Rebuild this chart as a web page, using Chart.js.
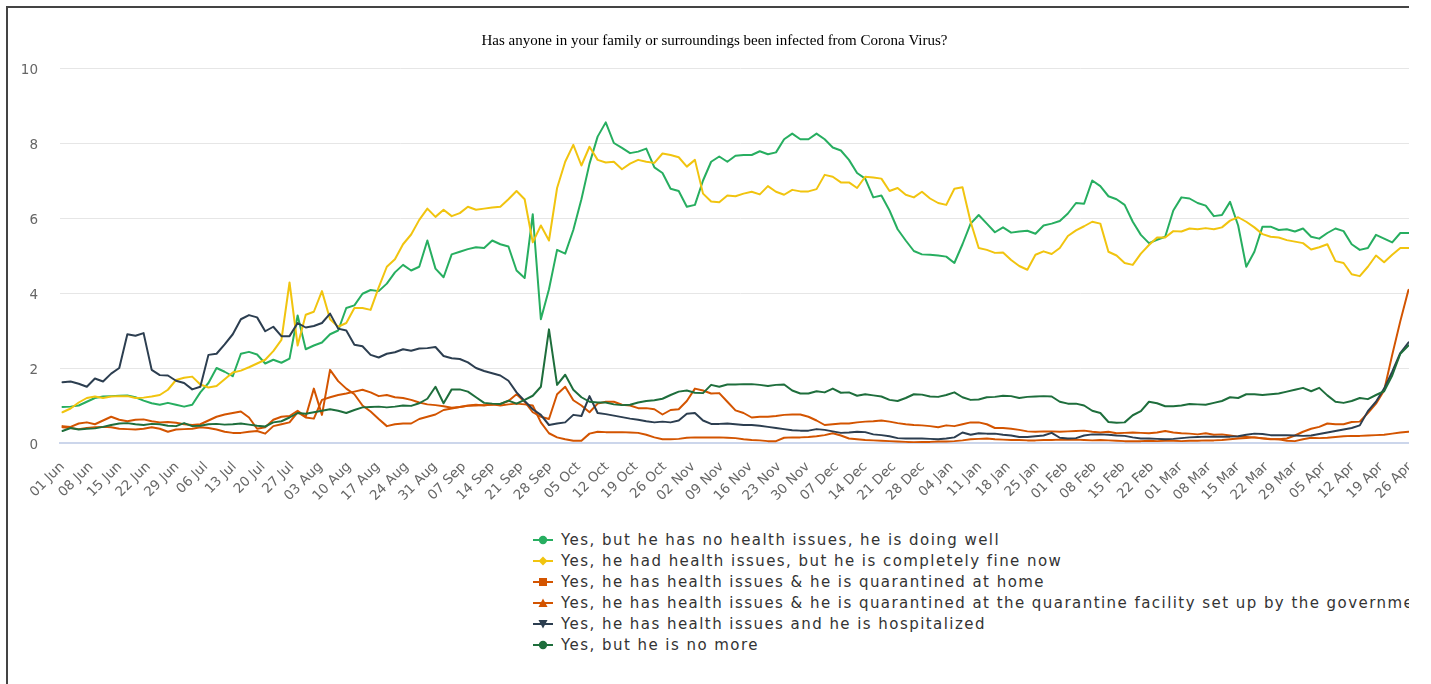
<!DOCTYPE html>
<html>
<head>
<meta charset="utf-8">
<title>Has anyone in your family or surroundings been infected from Corona Virus?</title>
<script src="https://cdn.jsdelivr.net/npm/chart.js@4.4.1/dist/chart.umd.min.js"></script>
<style>
  html, body { margin: 0; padding: 0; background: #fff; overflow: hidden; }
  #frame {
    position: absolute; left: 6px; top: 6px; width: 1401px; height: 700px;
    border-left: 2px solid #444; border-top: 2px solid #444; overflow: hidden;
  }
  #chartBox { position: absolute; left: 0; top: 0; width: 1413px; height: 505px; }
  #legend {
    position: absolute; left: 525px; top: 521px; white-space: nowrap;
    font: 15px "DejaVu Sans", sans-serif; letter-spacing: 1.45px; color: #333;
  }
  .legend-item { height: 21px; display: flex; align-items: center; }
  .legend-item svg { flex: none; margin-right: 8px; }
</style>
</head>
<body>
<div id="frame">
  <div id="chartBox"><canvas id="surveyChart"></canvas></div>
  <div id="legend"></div>
</div>
<script>
const STEP_DAYS = 1.98

const tickLabels = [
  "01 Jun", "08 Jun", "15 Jun", "22 Jun", "29 Jun", "06 Jul", "13 Jul", "20 Jul", "27 Jul",
  "03 Aug", "10 Aug", "17 Aug", "24 Aug", "31 Aug", "07 Sep", "14 Sep", "21 Sep", "28 Sep",
  "05 Oct", "12 Oct", "19 Oct", "26 Oct", "02 Nov", "09 Nov", "16 Nov", "23 Nov", "30 Nov",
  "07 Dec", "14 Dec", "21 Dec", "28 Dec", "04 Jan", "11 Jan", "18 Jan", "25 Jan", "01 Feb",
  "08 Feb", "15 Feb", "22 Feb", "01 Mar", "08 Mar", "15 Mar", "22 Mar", "29 Mar", "05 Apr",
  "12 Apr", "19 Apr", "26 Apr", "03 May",
]

const seriesNames = [
  "Yes, but he has no health issues, he is doing well",
  "Yes, he had health issues, but he is completely fine now",
  "Yes, he has health issues & he is quarantined at home",
  "Yes, he has health issues & he is quarantined at the quarantine facility set up by the government",
  "Yes, he has health issues and he is hospitalized",
  "Yes, but he is no more",
]

const doingWell = [
  0.96, 0.97, 1.0, 1.1, 1.2, 1.24, 1.25, 1.26, 1.27, 1.22,
  1.13, 1.06, 1.02, 1.07, 1.02, 0.97, 1.02, 1.35, 1.6, 2.0,
  1.9, 1.78, 2.38, 2.43, 2.36, 2.12, 2.22, 2.14, 2.25, 3.4,
  2.5, 2.6, 2.68, 2.9, 3.0, 3.6, 3.67, 3.98, 4.08, 4.05,
  4.25, 4.55, 4.75, 4.6, 4.7, 5.4, 4.65, 4.42, 5.03, 5.1,
  5.17, 5.22, 5.2, 5.4, 5.3, 5.24, 4.6, 4.4, 6.1, 3.3,
  4.1, 5.15, 5.05, 5.68, 6.5, 7.45, 8.17, 8.55, 8.0, 7.87,
  7.73, 7.77, 7.85, 7.35, 7.2, 6.78, 6.72, 6.3, 6.35, 7.0,
  7.5, 7.64, 7.5, 7.66, 7.68, 7.68, 7.78, 7.7, 7.75, 8.1,
  8.25, 8.1, 8.1, 8.25, 8.1, 7.88, 7.8, 7.55, 7.2, 7.05,
  6.55, 6.6, 6.2, 5.7, 5.4, 5.12, 5.03, 5.02, 5.0, 4.97,
  4.8, 5.3, 5.85, 6.08, 5.85, 5.62, 5.75, 5.61, 5.64, 5.66,
  5.58, 5.8, 5.85, 5.92, 6.12, 6.4, 6.38, 7.0, 6.85, 6.58,
  6.5, 6.35, 5.9, 5.55, 5.33, 5.42, 5.5, 6.2, 6.55, 6.52,
  6.4, 6.33, 6.05, 6.08, 6.43, 5.8, 4.7, 5.1, 5.77, 5.77,
  5.68, 5.7, 5.64, 5.72, 5.5, 5.45, 5.6, 5.72, 5.65, 5.3,
  5.15, 5.2, 5.55, 5.45, 5.35, 5.6, 5.6, 5.6,
]

const fineNow = [
  0.82, 0.92, 1.08, 1.2, 1.24, 1.2, 1.24, 1.25, 1.25, 1.2,
  1.21, 1.24, 1.28, 1.42, 1.68, 1.74, 1.77, 1.56, 1.48, 1.52,
  1.7, 1.88, 1.93, 2.02, 2.12, 2.22, 2.45, 2.75, 4.28, 2.6,
  3.42, 3.5, 4.05, 3.3, 3.1, 3.2, 3.6, 3.6, 3.55, 4.15,
  4.7, 4.9, 5.3, 5.56, 5.95, 6.25, 6.03, 6.22, 6.05, 6.13,
  6.3, 6.22, 6.25, 6.28, 6.3, 6.5, 6.72, 6.5, 5.35, 5.8,
  5.4, 6.8, 7.5, 7.95, 7.4, 7.9, 7.55, 7.48, 7.5, 7.3,
  7.45, 7.55, 7.5, 7.47, 7.72, 7.68, 7.62, 7.37, 7.55, 6.65,
  6.44, 6.42, 6.6, 6.58, 6.65, 6.7, 6.63, 6.85, 6.7, 6.62,
  6.75, 6.71, 6.71, 6.77, 7.15, 7.1, 6.95, 6.95, 6.8, 7.1,
  7.08, 7.05, 6.72, 6.8, 6.62, 6.55, 6.7, 6.52, 6.4, 6.35,
  6.78, 6.82, 5.9, 5.2, 5.15, 5.07, 5.08, 4.88, 4.72, 4.62,
  5.02, 5.11, 5.04, 5.2, 5.52, 5.67, 5.78, 5.9, 5.85, 5.1,
  5.0, 4.8, 4.75, 5.05, 5.28, 5.48, 5.48, 5.65, 5.64, 5.72,
  5.7, 5.73, 5.7, 5.75, 5.93, 6.02, 5.9, 5.75, 5.57, 5.5,
  5.48, 5.41, 5.37, 5.33, 5.16, 5.22, 5.3, 4.85, 4.8, 4.5,
  4.45, 4.7, 5.0, 4.82, 5.02, 5.2, 5.2, 5.2,
]

const atHome = [
  0.45, 0.43, 0.52, 0.55, 0.5, 0.6, 0.7, 0.62, 0.58, 0.62,
  0.63, 0.58, 0.55, 0.56, 0.54, 0.5, 0.48, 0.5, 0.6, 0.7,
  0.76, 0.8, 0.84, 0.68, 0.38, 0.42, 0.62, 0.7, 0.72, 0.86,
  0.7, 1.45, 0.75, 1.95, 1.65, 1.45, 1.3, 1.0, 0.84, 0.64,
  0.45, 0.5, 0.52, 0.52, 0.64, 0.7, 0.76, 0.88, 0.92, 0.96,
  0.99, 1.0, 1.01, 1.02, 1.04, 1.12, 1.3, 1.1, 0.82, 0.7,
  0.64, 1.3, 1.5, 1.14, 1.0, 0.82, 1.05, 1.1, 1.1, 1.02,
  1.0, 0.93, 0.93, 0.9, 0.76, 0.88, 0.9, 1.12, 1.45, 1.4,
  1.32, 1.33, 1.1, 0.87, 0.8, 0.68, 0.7, 0.7, 0.72, 0.75,
  0.76, 0.76, 0.7, 0.6, 0.48, 0.5, 0.52, 0.52, 0.55, 0.57,
  0.58, 0.6, 0.57, 0.53, 0.5, 0.48, 0.47, 0.45, 0.42, 0.47,
  0.45, 0.5, 0.55, 0.55, 0.5, 0.4, 0.4, 0.38, 0.35, 0.31,
  0.3, 0.31, 0.31, 0.3, 0.31, 0.32, 0.33, 0.3, 0.28, 0.3,
  0.26, 0.27, 0.28, 0.27, 0.26, 0.28, 0.32, 0.28, 0.26, 0.25,
  0.23, 0.26, 0.22, 0.23, 0.2, 0.17, 0.16, 0.15, 0.12, 0.1,
  0.1, 0.12, 0.2, 0.3, 0.38, 0.43, 0.52, 0.5, 0.5, 0.56,
  0.57, 0.8, 1.05, 1.4, 2.35, 3.25, 4.08, 4.2,
]

const atFacility = [
  0.42, 0.4, 0.37, 0.4, 0.42, 0.43, 0.42, 0.38, 0.37, 0.36,
  0.38, 0.42, 0.38, 0.3, 0.36, 0.37, 0.38, 0.42, 0.4, 0.36,
  0.3, 0.27, 0.27, 0.3, 0.32, 0.25, 0.45, 0.5, 0.55, 0.82,
  0.68, 0.65, 1.15, 1.22, 1.28, 1.32, 1.37, 1.42, 1.35, 1.25,
  1.28, 1.22, 1.2, 1.15, 1.08, 1.03, 1.01, 0.98, 0.94, 0.96,
  1.0, 1.02, 1.0, 1.03, 1.0, 1.03, 1.05, 1.03, 1.0, 0.55,
  0.26, 0.15, 0.1, 0.06, 0.06, 0.25, 0.3, 0.29, 0.29, 0.29,
  0.28, 0.27, 0.22, 0.15, 0.1, 0.1, 0.11, 0.14, 0.15, 0.15,
  0.15, 0.15, 0.14, 0.13, 0.1, 0.08, 0.07, 0.05, 0.05, 0.14,
  0.15, 0.15, 0.16, 0.18, 0.21, 0.26, 0.2, 0.12, 0.1, 0.08,
  0.07, 0.06, 0.05, 0.04, 0.03, 0.02, 0.03, 0.03, 0.04, 0.04,
  0.05, 0.07, 0.1, 0.11, 0.12, 0.1, 0.09, 0.08, 0.08, 0.07,
  0.07, 0.08, 0.08, 0.09, 0.09, 0.09, 0.08, 0.07, 0.08, 0.07,
  0.06, 0.05, 0.05, 0.05, 0.06, 0.05, 0.06, 0.06, 0.05, 0.06,
  0.06, 0.07, 0.07, 0.08, 0.1, 0.12, 0.13, 0.15, 0.13, 0.11,
  0.1, 0.06, 0.05, 0.1, 0.14, 0.13, 0.14, 0.16, 0.18, 0.19,
  0.19, 0.2, 0.21, 0.22, 0.25, 0.28, 0.3, 0.31,
]

const hospitalized = [
  1.62, 1.64, 1.58, 1.5, 1.72, 1.64, 1.85, 2.0, 2.9, 2.86,
  2.93, 1.95, 1.81, 1.8, 1.66, 1.6, 1.43, 1.5, 2.35, 2.38,
  2.63, 2.9, 3.3, 3.41, 3.35, 2.98, 3.1, 2.85, 2.85, 3.2,
  3.08, 3.12, 3.2, 3.45, 3.05, 3.0, 2.62, 2.58, 2.35, 2.28,
  2.38, 2.42, 2.5, 2.46, 2.52, 2.53, 2.56, 2.32, 2.26, 2.24,
  2.15, 2.0, 1.92, 1.86, 1.8, 1.66, 1.35, 1.12, 0.9, 0.75,
  0.48, 0.52, 0.55, 0.75, 0.72, 1.25, 0.8, 0.77, 0.73, 0.69,
  0.65, 0.62, 0.58, 0.55, 0.57, 0.55, 0.6, 0.78, 0.8, 0.6,
  0.51, 0.51, 0.52, 0.5, 0.48, 0.48, 0.46, 0.43, 0.4, 0.37,
  0.34, 0.33, 0.33, 0.37, 0.35, 0.31, 0.27, 0.28, 0.3, 0.29,
  0.23, 0.21, 0.18, 0.13, 0.12, 0.12, 0.12, 0.11, 0.1, 0.12,
  0.15, 0.28, 0.22, 0.26, 0.25, 0.25, 0.22, 0.2, 0.16, 0.16,
  0.18, 0.2, 0.27, 0.14, 0.12, 0.13, 0.2, 0.23, 0.23, 0.22,
  0.2, 0.19, 0.15, 0.12, 0.12, 0.11, 0.1, 0.11, 0.13, 0.15,
  0.16, 0.17, 0.17, 0.17, 0.17, 0.18, 0.22, 0.25, 0.24, 0.21,
  0.21, 0.21, 0.2, 0.19, 0.2, 0.24, 0.28, 0.32, 0.36, 0.4,
  0.47, 0.85, 1.1, 1.45, 1.9, 2.4, 2.68, 2.8,
]

const noMore = [
  0.32, 0.4, 0.36, 0.38, 0.39, 0.43, 0.48, 0.52, 0.53, 0.5,
  0.48, 0.51, 0.5, 0.46, 0.45, 0.53, 0.45, 0.46, 0.5, 0.51,
  0.49, 0.5, 0.52, 0.49, 0.46, 0.44, 0.55, 0.58, 0.68, 0.8,
  0.78, 0.82, 0.86, 0.9, 0.86, 0.8, 0.88, 0.95, 0.96, 0.97,
  0.95, 0.97, 1.0, 0.99, 1.06, 1.18, 1.5, 1.06, 1.43, 1.43,
  1.37, 1.22, 1.07, 1.05, 1.04, 1.13, 1.05, 1.15, 1.26, 1.5,
  3.03, 1.55, 1.82, 1.42, 1.22, 1.1, 1.08, 1.08, 1.03, 1.01,
  1.02, 1.08, 1.12, 1.14, 1.18, 1.28, 1.37, 1.4, 1.34, 1.33,
  1.55, 1.5, 1.56, 1.56, 1.57, 1.57, 1.55, 1.52, 1.55, 1.56,
  1.4, 1.32, 1.32, 1.38, 1.35, 1.45, 1.34, 1.35, 1.26, 1.3,
  1.27, 1.24, 1.15, 1.12, 1.2, 1.3, 1.29, 1.24, 1.23, 1.28,
  1.35, 1.22, 1.15, 1.16, 1.22, 1.23, 1.26, 1.25, 1.2, 1.23,
  1.24, 1.25, 1.24, 1.1, 1.05, 1.05, 1.0, 0.86, 0.8, 0.56,
  0.54, 0.55, 0.74, 0.85, 1.1, 1.06, 0.98, 0.98, 1.0, 1.04,
  1.03, 1.02, 1.07, 1.12, 1.22, 1.2, 1.3, 1.3, 1.28, 1.3,
  1.32, 1.37, 1.42, 1.47, 1.38, 1.47, 1.27, 1.1, 1.07, 1.12,
  1.2, 1.17, 1.28, 1.38, 1.8, 2.38, 2.6, 2.72,
]

const seriesValues = [doingWell, fineNow, atHome, atFacility, hospitalized, noMore]
const seriesColors = ["#27ae60", "#f1c40f", "#d35400", "#d35400", "#2c3e50", "#1e6e3c"]
const seriesMarkers = ["circle", "diamond", "square", "triangle", "triangleDown", "circle"]

const tickFont = { family: "'DejaVu Sans', sans-serif", size: 13.5 }

function toPoints(values) {
  return values.map((v, i) => ({ x: i * STEP_DAYS, y: v }))
}

const datasets = seriesValues.map((values, i) => ({
  label: seriesNames[i],
  data: toPoints(values),
  borderColor: seriesColors[i],
  backgroundColor: seriesColors[i],
  borderWidth: 2,
  pointRadius: 0,
  tension: 0,
  borderJoinStyle: "round",
  borderCapStyle: "round",
  order: seriesValues.length - i,
  marker: seriesMarkers[i],
}))

const chart = new Chart(document.getElementById("surveyChart"), {
  type: "line",
  data: { datasets },
  options: {
    responsive: true,
    maintainAspectRatio: false,
    animation: false,
    layout: { padding: 0 },
    plugins: {
      legend: { display: false },
      tooltip: { enabled: false },
      title: {
        display: true,
        text: "Has anyone in your family or surroundings been infected from Corona Virus?",
        color: "#000",
        font: { family: "'Liberation Serif', serif", size: 15, weight: "normal" },
        padding: { top: 24, bottom: 18 },
      },
    },
    scales: {
      x: {
        type: "linear",
        // the plot is wider than the visible frame: it runs a little past 26 Apr
        min: -0.61,
        max: 331.75,
        grid: { display: false },
        border: { color: "#ccd6eb", width: 2 },
        afterBuildTicks: (scale) => {
          scale.ticks = tickLabels
            .map((_, i) => ({ value: i * 7 }))
            .filter((t) => t.value <= scale.max)
        },
        afterFit: (scale) => {
          scale.height = 70
          scale.paddingLeft = 0
          scale.paddingRight = 0
        },
        ticks: {
          autoSkip: false,
          minRotation: 45,
          maxRotation: 45,
          padding: 8,
          color: "#666",
          font: tickFont,
          callback: (value) => tickLabels[Math.round(value / 7)],
        },
      },
      y: {
        min: 0,
        max: 10,
        grid: { color: "#e6e6e6", lineWidth: 1, drawTicks: false },
        border: { display: false },
        afterFit: (scale) => {
          scale.width = 52
        },
        ticks: { stepSize: 2, padding: 22, labelOffset: 2, color: "#666", font: tickFont },
      },
    },
  },
})

// Legend: one item per line, line + marker symbol in front of the text
function markerSvg(marker, color) {
  let shape
  switch (marker) {
    case "diamond":
      shape = `<polygon points="10,1.5 14.5,6 10,10.5 5.5,6" fill="${color}"/>`
      break
    case "square":
      shape = `<rect x="6" y="2" width="8" height="8" fill="${color}"/>`
      break
    case "triangle":
      shape = `<polygon points="10,1.5 14.5,10 5.5,10" fill="${color}"/>`
      break
    case "triangleDown":
      shape = `<polygon points="5.5,2 14.5,2 10,10.5" fill="${color}"/>`
      break
    default:
      shape = `<circle cx="10" cy="6" r="4.2" fill="${color}"/>`
  }
  return `<svg width="20" height="12" viewBox="0 0 20 12">
    <line x1="0" y1="6" x2="20" y2="6" stroke="${color}" stroke-width="2"/>${shape}</svg>`
}

document.getElementById("legend").innerHTML = chart.data.datasets
  .map((ds) => `<div class="legend-item">${markerSvg(ds.marker, ds.borderColor)}<span>${ds.label}</span></div>`)
  .join("")
</script>
</body>
</html>
